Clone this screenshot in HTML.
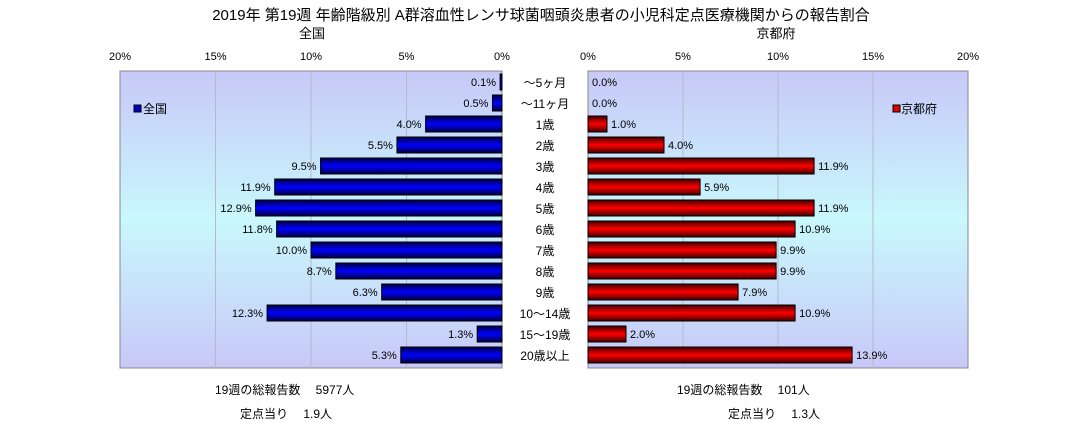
<!DOCTYPE html>
<html><head><meta charset="utf-8"><style>
body{margin:0;background:#fff;}
svg{display:block;font-family:"Liberation Sans","Noto Sans CJK JP",sans-serif;}
</style></head><body>
<svg width="1083" height="429" viewBox="0 0 1083 429" xmlns="http://www.w3.org/2000/svg">
<defs>
<linearGradient id="bg" x1="0" y1="0" x2="0" y2="1">
<stop offset="0" stop-color="#c8c8f8"/><stop offset="0.5" stop-color="#c8f8fc"/><stop offset="1" stop-color="#c8c8f8"/></linearGradient>
<linearGradient id="gb" x1="0" y1="0" x2="0" y2="1">
<stop offset="0" stop-color="#000040"/><stop offset="0.5" stop-color="#0000ff"/><stop offset="1" stop-color="#000040"/></linearGradient>
<linearGradient id="gr" x1="0" y1="0" x2="0" y2="1">
<stop offset="0" stop-color="#400000"/><stop offset="0.5" stop-color="#ff0000"/><stop offset="1" stop-color="#400000"/></linearGradient>
</defs>
<text x="541" y="20" text-anchor="middle" font-size="15">2019年 第19週 年齢階級別 A群溶血性レンサ球菌咽頭炎患者の小児科定点医療機関からの報告割合</text>
<text x="312" y="38" text-anchor="middle" font-size="13">全国</text>
<text x="776" y="38" text-anchor="middle" font-size="13">京都府</text>
<rect x="120" y="71" width="382" height="297" fill="url(#bg)" stroke="#888"/>
<rect x="588" y="71" width="380" height="297" fill="url(#bg)" stroke="#888"/>
<g id="g"></g>
<rect x="134" y="105" width="7" height="7" fill="#0000c0" stroke="#000"/>
<text x="143" y="113" font-size="12">全国</text>
<rect x="893" y="105" width="7" height="7" fill="#e00000" stroke="#000"/>
<text x="901" y="113" font-size="12">京都府</text>
<text x="215" y="394" font-size="12">19週の総報告数　 5977人</text>
<text x="240" y="418" font-size="12">定点当り　 1.9人</text>
<text x="677" y="394" font-size="12">19週の総報告数　 101人</text>
<text x="728" y="418" font-size="12">定点当り　 1.3人</text>
</svg>
<script>
const categories=["～5ヶ月","～11ヶ月","1歳","2歳","3歳","4歳","5歳","6歳","7歳","8歳","9歳","10～14歳","15～19歳","20歳以上"];
const nationalValues=[0.1,0.5,4.0,5.5,9.5,11.9,12.9,11.8,10.0,8.7,6.3,12.3,1.3,5.3];
const kyotoValues=[0.0,0.0,1.0,4.0,11.9,5.9,11.9,10.9,9.9,9.9,7.9,10.9,2.0,13.9];
const ticks=[0,5,10,15,20];
const NS="http://www.w3.org/2000/svg";
const g=document.getElementById('g');
const xL=v=>502-v*(382/20);
const xR=v=>588+v*(380/20);
const yC=i=>82+i*21;
function mk(t,a){const e=document.createElementNS(NS,t);for(const k in a)e.setAttribute(k,a[k]);g.appendChild(e);return e;}
ticks.forEach(t=>{
  if(t>0&&t<20){
    const l1=mk('line',{x1:xL(t),x2:xL(t),y1:71,y2:368,stroke:'#b8b8c8'});
    
    
    const l2=mk('line',{x1:xR(t),x2:xR(t),y1:71,y2:368,stroke:'#b8b8c8'});
    
    
  }
  const a=mk('text',{x:xL(t),y:60,'text-anchor':'middle','font-size':11});a.textContent=t+'%';
  
  
  const b=mk('text',{x:xR(t),y:60,'text-anchor':'middle','font-size':11});b.textContent=t+'%';
  
  
});
categories.forEach((c,i)=>{
  const y=yC(i);
  const ct=mk('text',{x:545,y:y+5,'text-anchor':'middle','font-size':12});ct.textContent=c;
  
  
  const v=nationalValues[i];
  const r=mk('rect',{x:xL(v),y:y-8,width:xL(0)-xL(v),height:16,fill:'url(#gb)',stroke:'#000','stroke-width':1});
  
  
  const lt=mk('text',{x:xL(v)-4,y:y+4,'text-anchor':'end','font-size':11});lt.textContent=v.toFixed(1)+'%';
  
  
  const k=kyotoValues[i];
  if(k>0){
    const r2=mk('rect',{x:xR(0),y:y-8,width:xR(k)-xR(0),height:16,fill:'url(#gr)',stroke:'#000','stroke-width':1});
    
    
  }
  const rt=mk('text',{x:xR(k)+4,y:y+4,'font-size':11});rt.textContent=k.toFixed(1)+'%';
  
  
});
</script>
</body></html>
